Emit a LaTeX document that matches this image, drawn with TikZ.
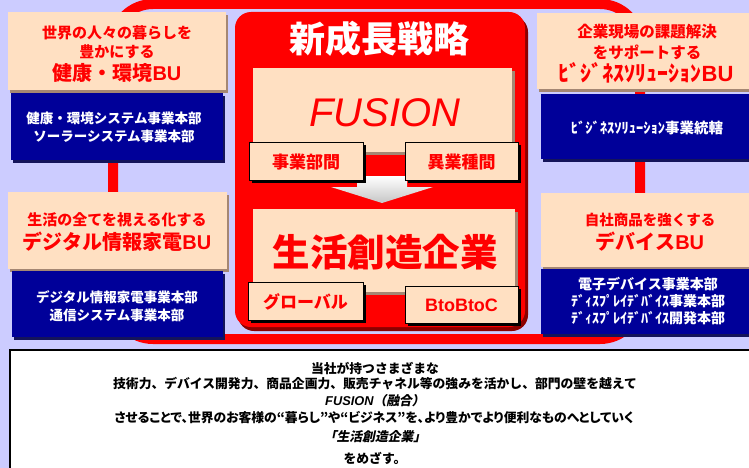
\documentclass[tikz,border=0pt]{standalone}
\usepackage{fontspec}
\setmainfont{Noto Sans CJK JP}
\newfontfamily\lat{Liberation Sans}
\newfontfamily\jpi{Noto Sans CJK JP}[FakeSlant=0.2]
\newfontfamily\jpp{Noto Sans CJK JP}[RawFeature=+palt]
\usetikzlibrary{shadows}
\definecolor{bg}{RGB}{204,204,255}
\definecolor{beige}{RGB}{255,224,194}
\definecolor{navy}{RGB}{0,0,153}
\definecolor{navysh}{RGB}{20,20,90}
\definecolor{redc}{RGB}{255,0,0}
\definecolor{dred}{RGB}{140,0,0}
\definecolor{bsh}{RGB}{165,135,115}
\newcommand\myfs[1]{\fontsize{#1}{#1}\selectfont}
\tikzset{
  bbox/.style={fill=beige, inner sep=0, drop shadow={shadow xshift=2pt, shadow yshift=-3pt, fill=bsh, opacity=1}},
  nbox/.style={fill=navy, inner sep=0, drop shadow={shadow xshift=2pt, shadow yshift=-3pt, fill=navysh, opacity=1}},
  sbox/.style={fill=beige, draw=black, line width=1pt, inner sep=0, drop shadow={shadow xshift=3pt, shadow yshift=-3pt, fill=black, opacity=1}},
  rtxt/.style={text=redc, inner sep=0},
  wtxt/.style={text=white, inner sep=0},
  ktxt/.style={text=black, inner sep=0},
}
\begin{document}
\begin{tikzpicture}[x=1pt,y=-1pt]
\useasboundingbox (0,0) rectangle (749,468);
\fill[bg] (0,0) rectangle (749,468);
% red frame linking the business units
\draw[redc, line width=10pt, rounded corners=40pt] (113,4) rectangle (640,339);
% BU boxes
\node[bbox, minimum width=218, minimum height=78] (lt) at (117,51) {};
\node[nbox, minimum width=212, minimum height=67] (ltb) at (117,126.5) {};
\node[bbox, minimum width=219, minimum height=77] (lb) at (117.5,230.5) {};
\node[nbox, minimum width=211, minimum height=66] (lbb) at (117.5,304) {};
\node[bbox, minimum width=215, minimum height=76] (rt) at (644.5,51) {};
\node[nbox, minimum width=211, minimum height=65] (rtb) at (646.5,126.5) {};
\node[bbox, minimum width=211, minimum height=74] (rb) at (646.5,230) {};
\node[nbox, minimum width=211, minimum height=65] (rbb) at (646.5,301.5) {};
% central box
\node[fill=redc, rounded corners=16pt, minimum width=290, minimum height=315, inner sep=0,
  drop shadow={shadow xshift=3pt, shadow yshift=-4pt, fill=dred, opacity=1}] (ctr) at (380,169.5) {};
\node[bbox, minimum width=259, minimum height=84, drop shadow={shadow xshift=3pt, shadow yshift=-3pt, fill=bsh, opacity=1}] (fus) at (382.5,110) {};
\path[top color=white, bottom color=gray!45] (357,176) -- (407,176) -- (407,187) -- (433,187) -- (382,203) -- (331,187) -- (357,187) -- cycle;
\node[bbox, minimum width=262, minimum height=83, drop shadow={shadow xshift=3pt, shadow yshift=-3pt, fill=bsh, opacity=1}] (gen) at (384,250.5) {};
\node[sbox, minimum width=114, minimum height=38] (s1) at (306,161) {};
\node[sbox, minimum width=113, minimum height=38] (s2) at (461.5,161) {};
\node[sbox, minimum width=115, minimum height=38] (s3) at (305.5,301) {};
\node[sbox, minimum width=113, minimum height=37] (s4) at (461.5,304.5) {};
% texts left top
\node[rtxt, font=\bfseries\myfs{15}] (lt1) at (117,33) {世界の人々の暮らしを};
\node[rtxt, font=\bfseries\myfs{15}] (lt2) at (117,52) {豊かにする};
\node[rtxt, font=\bfseries\myfs{20}] (lt3) at (117,73) {健康・環境{\lat\bfseries BU}};
\node[wtxt, font=\bfseries\myfs{13.5}] (ltb1) at (114,118) {健康・環境システム事業本部};
\node[wtxt, font=\bfseries\myfs{13.5}] (ltb2) at (114,136) {ソーラーシステム事業本部};
% left bottom
\node[rtxt, font=\bfseries\myfs{15}] (lb1) at (117,220) {生活の全てを視える化する};
\node[rtxt, font=\bfseries\myfs{20}] (lb2) at (117,242) {デジタル情報家電{\lat\bfseries BU}};
\node[wtxt, font=\bfseries\myfs{13.5}] (lbb1) at (117,297) {デジタル情報家電事業本部};
\node[wtxt, font=\bfseries\myfs{13.5}] (lbb2) at (117,315) {通信システム事業本部};
% right top
\node[rtxt, font=\bfseries\myfs{15.5}] (rt1) at (647,32) {企業現場の課題解決};
\node[rtxt, font=\bfseries\myfs{15.5}] (rt2) at (647,52) {をサポートする};
\node[rtxt, font=\bfseries\myfs{22}] (rt3) at (646,73) {ﾋﾞｼﾞﾈｽｿﾘｭｰｼｮﾝ{\lat\bfseries BU}};
\node[wtxt, font=\bfseries\myfs{14.5}] (rtb1) at (647,128) {ﾋﾞｼﾞﾈｽｿﾘｭｰｼｮﾝ事業統轄};
% right bottom
\node[rtxt, font=\bfseries\myfs{14.5}] (rb1) at (650,220) {自社商品を強くする};
\node[rtxt, font=\bfseries\myfs{20}] (rb2) at (650,242) {デバイス{\lat\bfseries BU}};
\node[wtxt, font=\bfseries\myfs{14}] (rbb1) at (648,284) {電子デバイス事業本部};
\node[wtxt, font=\bfseries\myfs{14}] (rbb2) at (648,301) {ﾃﾞｨｽﾌﾟﾚｲﾃﾞﾊﾞｲｽ事業本部};
\node[wtxt, font=\bfseries\myfs{14}] (rbb3) at (648,318) {ﾃﾞｨｽﾌﾟﾚｲﾃﾞﾊﾞｲｽ開発本部};
% centre texts
\node[wtxt, font=\bfseries\myfs{36}] (title) at (379,39) {新成長戦略};
\node[rtxt, font=\lat\itshape\myfs{40}] (fust) at (385,113) {FUSION};
\node[rtxt, font=\bfseries\myfs{37.5}] (gent) at (385,252) {生活創造企業};
\node[rtxt, font=\bfseries\myfs{17}] (s1t) at (306,162) {事業部間};
\node[rtxt, font=\bfseries\myfs{17}] (s2t) at (461.5,162) {異業種間};
\node[rtxt, font=\bfseries\myfs{17}] (s3t) at (305.5,302) {グローバル};
\node[rtxt, font=\lat\bfseries\myfs{18}] (s4t) at (461.5,305) {BtoBtoC};
% bottom statement
\node[fill=white, draw=black, line width=1.5pt, minimum width=752, minimum height=130, inner sep=0] (stm) at (386,415) {};
\node[ktxt, font=\bfseries\myfs{12.8}] (l1) at (375,368) {当社が持つさまざまな};
\node[ktxt, font=\bfseries\myfs{12.8}] (l2) at (375,384) {技術力、デバイス開発力、商品企画力、販売チャネル等の強みを活かし、部門の壁を越えて};
\node[ktxt, font=\bfseries\myfs{12.8}] (l3) at (375,401) {{\lat\bfseries\itshape FUSION}{\jpi\bfseries（融合）}};
\node[ktxt, font=\jpp\bfseries\myfs{12.8}] (l4) at (374,418) {させることで、世界のお客様の“暮らし”や“ビジネス”を、より豊かでより便利なものへとしていく};
\node[ktxt, font=\jpi\bfseries\myfs{12.8}] (l5) at (375,437) {「生活創造企業」};
\node[ktxt, font=\bfseries\myfs{12.8}] (l6) at (375,458) {をめざす。};
\end{tikzpicture}
\end{document}
